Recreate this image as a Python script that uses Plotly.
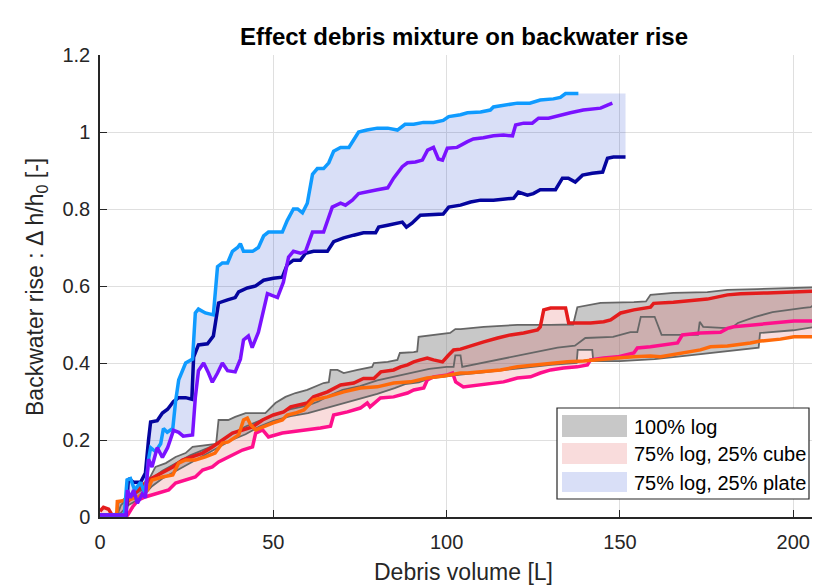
import numpy as np
import plotly.graph_objects as go

# ---------------- data ----------------
# 75% log, 25% plate
plate_a_x = [0, 7, 7.8, 8.8, 10, 11.7, 13, 14, 14.6, 16, 17.5, 18.3, 19.4, 21, 21.8, 22.7, 24.7, 26.7, 27.5, 28.4,
             30.4, 32.7, 33.9, 35.3, 36.8, 38.2, 39.7, 40.5, 41.4, 44, 45.7, 47.2, 48.6, 52.6, 54, 55.8, 57, 58.4,
             59.8, 61.3, 62.7, 64.5, 66, 67.4, 69.4, 71.8, 73.2, 74.6, 77, 80, 83, 85.8, 88, 90.5, 93.3, 96.2, 99,
             100.6, 104, 106, 109.8, 112.6, 113.5, 117.5, 120.4, 124, 127, 130.8, 132.8, 134.3, 138]
plate_a_y = [0.005, 0.005, 0.096, 0.10, 0.07, 0.09, 0.06, 0.15, 0.18, 0.17, 0.19, 0.23, 0.22, 0.23, 0.30, 0.356, 0.40,
             0.41, 0.53, 0.54, 0.53, 0.525, 0.65, 0.66, 0.66, 0.69, 0.70, 0.71, 0.69, 0.69, 0.70, 0.73, 0.74, 0.74,
             0.77, 0.80, 0.80, 0.79, 0.815, 0.89, 0.905, 0.905, 0.92, 0.95, 0.96, 0.96, 0.98, 1.0, 1.005, 1.01, 1.01,
             1.005, 1.02, 1.02, 1.025, 1.025, 1.03, 1.04, 1.045, 1.05, 1.052, 1.057, 1.065, 1.07, 1.075, 1.075,
             1.083, 1.086, 1.09, 1.10, 1.10]
plate_b_x = [0, 7.5, 7.9, 8.8, 9.7, 10.8, 12.2, 13.1, 14, 15, 16.5, 18, 19.5, 21.2, 22.7, 24, 26.7, 27.5, 28.4, 29.9,
             31.3, 32.4, 33.9, 35.3, 36.8, 39, 40.5, 41.4, 42.8, 43.9, 45.7, 47.2, 48.3, 51.2, 52.9, 54.4, 55.8,
             57.8, 59.3, 61.3, 64.5, 67, 69.4, 70.8, 72.8, 74.6, 77, 80, 83, 84.7, 87.2, 88.7, 91, 93, 94.5, 96.2,
             97.6, 98.8, 100.2, 103, 106, 107.7, 110.6, 113.5, 116.4, 119, 119.9, 122.2, 124.7, 126.5, 129.4,
             132.8, 135.7, 139.4, 144.4, 146.4, 147.8]
plate_b_y = [0.005, 0.005, 0.07, 0.05, 0.07, 0.036, 0.06, 0.05, 0.15, 0.13, 0.18, 0.155, 0.18, 0.225, 0.22, 0.21,
             0.213, 0.31, 0.38, 0.40, 0.374, 0.35, 0.374, 0.40, 0.38, 0.377, 0.41, 0.46, 0.47, 0.44, 0.48, 0.54,
             0.58, 0.57, 0.61, 0.675, 0.69, 0.685, 0.69, 0.74, 0.74, 0.805, 0.815, 0.81, 0.823, 0.84, 0.845, 0.85,
             0.855, 0.88, 0.91, 0.92, 0.922, 0.927, 0.953, 0.96, 0.93, 0.927, 0.958, 0.96, 0.975, 0.982, 0.985,
             0.99, 0.992, 0.99, 1.018, 1.023, 1.023, 1.036, 1.036, 1.044, 1.05, 1.057, 1.062, 1.07, 1.075]
plate_c_x = [0, 7.5, 8.2, 9.7, 11.7, 13.1, 14, 14.6, 16.5, 18, 19.5, 21.2, 22.7, 24.7, 26.5, 27, 28.4, 31, 32.7, 34.2,
             36.8, 39, 40, 42.5, 44.9, 47.2, 50, 52.6, 54, 55.8, 57.8, 59.3, 61.6, 65.6, 67.4, 70.3, 73.2, 76, 79.5,
             80.4, 83, 85.3, 87.2, 88.4, 90, 92.4, 96.2, 99, 100.6, 104, 106.9, 109.8, 113.5, 117.5, 119.3, 120.7,
             123.3, 125, 127, 131.4, 133.4, 135.1, 137.1, 139.2, 142, 145, 146.4, 148.1, 151.6]
plate_c_y = [0.005, 0.005, 0.10, 0.09, 0.09, 0.114, 0.20, 0.247, 0.25, 0.27, 0.28, 0.30, 0.31, 0.31, 0.306, 0.415,
             0.447, 0.45, 0.47, 0.556, 0.564, 0.57, 0.585, 0.595, 0.60, 0.615, 0.62, 0.623, 0.655, 0.667, 0.667,
             0.685, 0.69, 0.69, 0.715, 0.725, 0.732, 0.738, 0.738, 0.753, 0.758, 0.763, 0.766, 0.753, 0.763, 0.784,
             0.787, 0.787, 0.805, 0.81, 0.818, 0.823, 0.823, 0.828, 0.828, 0.844, 0.836, 0.84, 0.85, 0.85, 0.88,
             0.88, 0.87, 0.888, 0.893, 0.896, 0.932, 0.935, 0.935]

# 75% log, 25% cube
cube_a_x = [0, 1, 2.5, 3.5, 7, 8, 10, 12, 14, 18, 21, 23.8, 26.7, 29.6, 32.4, 35.3, 38.2, 41.1, 44, 46.9, 50, 53, 55,
            59.8, 61.6, 65.6, 69.4, 73.2, 76, 79, 81, 84.7, 86.7, 88.7, 90.5, 92.4, 94.4, 96.2, 98.8, 100.5, 102,
            104, 106, 110.7, 114.7, 118.4, 122.2, 126.2, 127, 128, 130, 134.3, 135.2, 137.7, 141.5, 145.3, 147.3,
            150.2, 154, 158.8, 159.7, 165.4, 171.2, 175.2, 181, 184.8, 192.5, 198.3, 206.5]
cube_a_y = [0.015, 0.025, 0.02, 0.005, 0.005, 0.04, 0.06, 0.08, 0.096, 0.114, 0.13, 0.148, 0.156, 0.166, 0.182, 0.20,
            0.218, 0.226, 0.234, 0.252, 0.265, 0.273, 0.286, 0.296, 0.312, 0.325, 0.343, 0.348, 0.36, 0.36, 0.377,
            0.382, 0.39, 0.395, 0.403, 0.408, 0.413, 0.408, 0.403, 0.42, 0.434, 0.436, 0.442, 0.455, 0.465, 0.473,
            0.478, 0.486, 0.494, 0.538, 0.543, 0.543, 0.504, 0.504, 0.504, 0.507, 0.512, 0.53, 0.538, 0.545, 0.555,
            0.558, 0.564, 0.566, 0.577, 0.58, 0.582, 0.584, 0.587]
cube_b_x = [0, 8, 9.4, 11, 13, 15, 17, 19.8, 21.8, 24.7, 27.5, 29.6, 32.4, 34.2, 37, 39, 41.1, 44, 44.9, 46.9, 48.6,
            52.6, 56.4, 58.8, 63.6, 66.5, 67.4, 71.4, 75.1, 77.1, 77.9, 80.9, 84.7, 88.7, 90.5, 93.4, 94.4, 96.2,
            100.2, 101.7, 102.6, 104.8, 108.9, 112.6, 116.4, 120.4, 124.2, 127, 130, 133.7, 137.7, 140.6, 141.5,
            145.3, 149.3, 154, 155, 158.8, 160.8, 166.6, 168, 173.2, 179, 181, 182.8, 188.6, 194.4, 200.2, 206.5]
cube_b_y = [0.005, 0.005, 0.026, 0.044, 0.052, 0.057, 0.062, 0.07, 0.088, 0.096, 0.104, 0.122, 0.13, 0.143, 0.156,
            0.166, 0.174, 0.182, 0.218, 0.226, 0.208, 0.218, 0.222, 0.226, 0.231, 0.236, 0.265, 0.273, 0.283, 0.296,
            0.286, 0.309, 0.312, 0.322, 0.33, 0.335, 0.356, 0.364, 0.369, 0.374, 0.351, 0.338, 0.343, 0.348, 0.351,
            0.361, 0.364, 0.374, 0.382, 0.387, 0.39, 0.395, 0.408, 0.413, 0.416, 0.426, 0.439, 0.442, 0.444, 0.452,
            0.473, 0.478, 0.48, 0.49, 0.494, 0.499, 0.504, 0.509, 0.509]
cube_c_x = [0, 4.8, 5, 8.2, 11, 13.7, 15, 18, 21, 22.7, 24.7, 27.5, 30.4, 33.2, 35.3, 37, 40, 41.4, 42.5, 43.4, 44.9,
            46.9, 49.8, 52.6, 54, 56.4, 58.8, 61.6, 65.6, 70.3, 75.1, 80, 84.7, 89.6, 94.4, 99.2, 104, 106, 110.7,
            115.5, 120.4, 125.2, 130, 134.8, 139.5, 144.4, 149.3, 154, 158.8, 161.7, 167.5, 173.2, 176.1, 181,
            187.6, 190.5, 196.3, 200.2, 206.5]
cube_c_y = [0.005, 0.005, 0.04, 0.044, 0.052, 0.07, 0.096, 0.104, 0.109, 0.14, 0.148, 0.148, 0.156, 0.166, 0.192,
            0.195, 0.213, 0.252, 0.257, 0.24, 0.226, 0.234, 0.244, 0.252, 0.265, 0.27, 0.278, 0.304, 0.312, 0.325,
            0.335, 0.338, 0.348, 0.351, 0.361, 0.366, 0.374, 0.374, 0.377, 0.382, 0.39, 0.395, 0.40, 0.403, 0.405,
            0.41, 0.413, 0.416, 0.418, 0.416, 0.426, 0.434, 0.442, 0.444, 0.452, 0.457, 0.462, 0.468, 0.468]

# 100% log
log_a_x = [0, 5, 5.3, 7.4, 10, 13, 16, 19, 21.8, 24.7, 26.7, 30.4, 33.5, 34.2, 37, 39, 42, 47.7, 50.6, 53.5, 56.4,
           59.8, 64.5, 66, 66.5, 68.5, 70.3, 74.3, 77.1, 78.5, 79, 83, 85.8, 86.5, 90.5, 91.5, 91.9, 96.2, 101,
           102.5, 104, 110.7, 120.4, 130, 136.5, 137.7, 144.4, 154, 157.5, 158.8, 165.4, 175.2, 181, 189.6, 199.2,
           207]
log_a_y = [0.005, 0.005, 0.036, 0.05, 0.06, 0.078, 0.13, 0.14, 0.156, 0.166, 0.182, 0.187, 0.19, 0.252, 0.252, 0.26,
           0.27, 0.27, 0.296, 0.312, 0.322, 0.33, 0.348, 0.35, 0.382, 0.382, 0.374, 0.382, 0.387, 0.39, 0.40, 0.403,
           0.408, 0.426, 0.428, 0.43, 0.468, 0.473, 0.478, 0.488, 0.488, 0.494, 0.499, 0.499, 0.50, 0.545, 0.556,
           0.558, 0.56, 0.577, 0.582, 0.584, 0.59, 0.592, 0.595, 0.597]
log_b_x = [0, 5, 6, 8, 12, 15, 18, 22, 26, 30, 34, 38, 42, 46, 50, 55, 60, 63, 66, 70, 75, 80, 85, 90, 95, 100, 102,
           102.5, 104, 104.5, 110, 115, 120, 126, 132, 137, 140, 148, 153, 155, 156, 160, 162, 170, 172.5, 173, 174,
           182, 184, 189, 194, 203, 205, 207]
log_b_y = [0.005, 0.005, 0.03, 0.05, 0.07, 0.10, 0.12, 0.14, 0.16, 0.175, 0.19, 0.215, 0.235, 0.25, 0.265, 0.28,
           0.29, 0.30, 0.315, 0.33, 0.34, 0.355, 0.365, 0.375, 0.385, 0.39, 0.39, 0.42, 0.42, 0.39, 0.40, 0.41, 0.42,
           0.43, 0.44, 0.445, 0.465, 0.468, 0.48, 0.48, 0.52, 0.52, 0.473, 0.473, 0.473, 0.507, 0.494, 0.49, 0.504,
           0.52, 0.532, 0.543, 0.545, 0.558]
log_c_x = [0, 6, 8, 12, 15, 18, 22, 26, 30, 34, 38, 42, 46, 50, 55, 60, 64, 68, 72, 76, 80, 85, 88, 92, 95, 100, 104,
           110, 115, 120, 125, 130, 137.5, 137.8, 142, 142.3, 150, 160, 170, 180, 190, 190.4, 200, 207]
log_c_y = [0.005, 0.01, 0.03, 0.05, 0.08, 0.10, 0.12, 0.14, 0.16, 0.18, 0.20, 0.215, 0.235, 0.25, 0.262, 0.27, 0.28,
           0.29, 0.30, 0.31, 0.32, 0.335, 0.345, 0.35, 0.36, 0.365, 0.37, 0.375, 0.38, 0.385, 0.39, 0.395, 0.40,
           0.434, 0.434, 0.405, 0.405, 0.41, 0.42, 0.43, 0.44, 0.478, 0.485, 0.495]

x_ticks = [0, 50, 100, 150, 200]
y_ticks = [0, 0.2, 0.4, 0.6, 0.8, 1.0, 1.2]
legend_labels = ["100% log", "75% log, 25% cube", "75% log, 25% plate"]
title_text = "<b>Effect debris mixture on backwater rise</b>"
x_label = "Debris volume [L]"
y_label = "Backwater rise : \u0394 h/h<sub>0</sub> [-]"

# ---------------- styling ----------------
# The page body has an 8 px margin, so the figure is drawn 8 px in from the
# window's top-left corner; all reference pixel positions are shifted by OFF.
OFF = 8
W, H = 820 - OFF, 586 - OFF
ML, MR, MT, MB = 100 - OFF, 0, 55 - OFF, 586 - 517
FONT = "Liberation Sans, Arial, Helvetica, sans-serif"
TXT = "#262626"

log_fill = "rgba(128,128,128,0.43)"
cube_fill = "rgba(220,60,60,0.18)"
plate_fill = "rgba(0,40,200,0.15)"


def px_x(p):
    return (p - OFF - ML) / (W - ML - MR)


def px_y(p):
    return (H - MB - (p - OFF)) / (H - MT - MB)


def envelope(series):
    grid = np.unique(np.concatenate([np.asarray(x, float) for x, _ in series]))
    vals = np.array([np.interp(grid, x, y) for x, y in series])
    up, lo = vals.max(axis=0), vals.min(axis=0)
    return np.concatenate([grid, grid[::-1]]), np.concatenate([up, lo[::-1]])


groups = [
    ([(log_a_x, log_a_y), (log_b_x, log_b_y), (log_c_x, log_c_y)], log_fill),
    ([(cube_a_x, cube_a_y), (cube_b_x, cube_b_y), (cube_c_x, cube_c_y)], cube_fill),
    ([(plate_a_x, plate_a_y), (plate_b_x, plate_b_y), (plate_c_x, plate_c_y)], plate_fill),
]

fig = go.Figure()
for series, fc in groups:
    ex, ey = envelope(series)
    fig.add_trace(go.Scatter(x=ex, y=ey, fill="toself", fillcolor=fc, mode="none",
                             hoverinfo="skip", showlegend=False))

for x, y in [(log_a_x, log_a_y), (log_b_x, log_b_y), (log_c_x, log_c_y)]:
    fig.add_trace(go.Scatter(x=x, y=y, mode="lines", line=dict(color="#666666", width=1.8),
                             showlegend=False))

for (x, y), c in [((cube_b_x, cube_b_y), "#ff0f8c"), ((cube_a_x, cube_a_y), "#e41c1c"),
                  ((cube_c_x, cube_c_y), "#ff6a0a")]:
    fig.add_trace(go.Scatter(x=x, y=y, mode="lines", line=dict(color=c, width=3.5), showlegend=False))

for (x, y), c in [((plate_c_x, plate_c_y), "#05059e"), ((plate_a_x, plate_a_y), "#0f9bff"),
                  ((plate_b_x, plate_b_y), "#7a12ff")]:
    fig.add_trace(go.Scatter(x=x, y=y, mode="lines", line=dict(color=c, width=3.5), showlegend=False))

axis_common = dict(showline=True, linecolor=TXT, linewidth=1.5, ticks="inside", ticklen=7, tickwidth=1.2,
                   tickcolor=TXT, showgrid=True, gridcolor="#dfdfdf", gridwidth=1, zeroline=False,
                   tickfont=dict(family=FONT, size=20, color=TXT), mirror=False)

fig.update_layout(
    width=W, height=H, margin=dict(l=ML, r=MR, t=MT, b=MB, autoexpand=False),
    plot_bgcolor="white", paper_bgcolor="white",
    xaxis=dict(range=[0, 207.7], tickvals=x_ticks, ticklabelstandoff=6, **axis_common),
    yaxis=dict(range=[0, 1.2], tickvals=y_ticks, ticklabelstandoff=4, **axis_common),
    title=dict(text=title_text, x=px_x(464), xref="paper", xanchor="center",
               y=1 - (37 - OFF) / H, yref="container", yanchor="middle",
               font=dict(family=FONT, size=24, color="#000000")),
    showlegend=False,
)

annotations = [
    dict(text=x_label, x=px_x(463), y=px_y(572), xref="paper", yref="paper", showarrow=False,
         xanchor="center", yanchor="middle", font=dict(family=FONT, size=23, color=TXT)),
    dict(text=y_label, x=px_x(36), y=px_y(287), xref="paper", yref="paper", showarrow=False, textangle=-90,
         xanchor="center", yanchor="middle", font=dict(family=FONT, size=23, color=TXT)),
]
shapes = [dict(type="rect", xref="paper", yref="paper", x0=px_x(557), x1=px_x(809), y0=px_y(408), y1=px_y(499),
               fillcolor="white", line=dict(color=TXT, width=1.2), layer="above")]
rows = [(415, 437), (443, 464), (472, 492)]
for (t, b), lab, fc in zip(rows, legend_labels, [log_fill, cube_fill, plate_fill]):
    shapes.append(dict(type="rect", xref="paper", yref="paper", x0=px_x(562), x1=px_x(627), y0=px_y(b), y1=px_y(t),
                       fillcolor=fc, line=dict(width=0), layer="above"))
    annotations.append(dict(text=lab, x=px_x(632), y=px_y((t + b) / 2 + 0.5), xref="paper", yref="paper",
                            showarrow=False, xanchor="left", yanchor="middle",
                            font=dict(family=FONT, size=20, color="#000000")))
fig.update_layout(annotations=annotations, shapes=shapes)

fig.write_html("out.html")
